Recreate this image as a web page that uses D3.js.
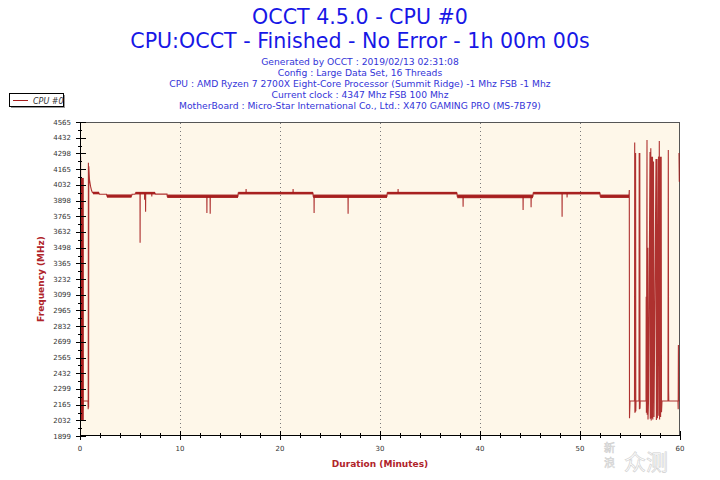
<!DOCTYPE html>
<html><head><meta charset="utf-8">
<script src="https://cdn.jsdelivr.net/npm/d3@7/dist/d3.min.js"></script>
<style>html,body{margin:0;padding:0;background:#fff;}svg{display:block;}</style>
</head><body><svg id="c" width="720" height="480"></svg>
<script>
// ---------- data ----------
const titleLines = ["OCCT 4.5.0 - CPU #0", "CPU:OCCT - Finished - No Error - 1h 00m 00s"];
const infoLines = [
  "Generated by OCCT : 2019/02/13 02:31:08",
  "Config : Large Data Set, 16 Threads",
  "CPU : AMD Ryzen 7 2700X Eight-Core Processor (Summit Ridge) -1 Mhz FSB -1 Mhz",
  "Current clock : 4347 Mhz FSB 100 Mhz",
  "MotherBoard : Micro-Star International Co., Ltd.: X470 GAMING PRO (MS-7B79)"
];
const seriesName = "CPU #0";
const yTickLabels = ["1899","2032","2165","2299","2432","2565","2699","2832","2965","3099","3232",
                     "3365","3498","3632","3765","3898","4032","4165","4298","4432","4565"];
const xTickLabels = ["0","10","20","30","40","50","60"];
const xMinorTicks = [2,4,6,8,12,14,16,18,22,24,26,28,32,34,36,38,42,44,46,48,52,54,56,58];
const yAxisTitle = "Frequency (MHz)";
const xAxisTitle = "Duration (Minutes)";

// frequency trace: [minute, MHz]; null marks a break in the trace
const trace = [
  [0.00,2060],[0.02,4306],[0.04,2035],[0.06,4270],[0.08,2050],[0.10,4090],[0.12,2040],
  [0.14,4060],[0.16,2070],[0.18,4030],[0.20,2090],[0.22,3718],[0.24,2100],[0.26,3700],
  [0.28,2120],[0.30,2196],[0.80,2196],[0.82,2126],[0.84,4218],[0.86,2140],[0.88,4190],
  [0.92,4120],[0.95,4073],[1.05,4020],[1.15,3985],[1.25,3965],[1.90,3962],[1.95,3951],
  [2.65,3951],[2.70,3935],[5.15,3935],[5.20,3951],[5.50,3951],[5.55,3962],
  [6.00,3962],[6.01,3540],[6.02,3962],[6.45,3962],[6.46,3905],[6.47,3962],
  [6.55,3962],[6.56,3803],[6.57,3962],[7.17,3962],[7.18,3932],[7.19,3962],
  [7.50,3962],[7.55,3953],[8.70,3953],[8.72,3935],
  [12.68,3935],[12.69,3792],[12.70,3935],[13.01,3935],[13.02,3786],[13.03,3935],
  [15.80,3935],[15.82,3962],[16.60,3962],[16.61,3996],[16.62,3962],
  [21.30,3962],[21.31,3996],[21.32,3962],[23.30,3962],[23.32,3935],
  [23.40,3935],[23.41,3792],[23.42,3935],[26.80,3935],[26.81,3786],[26.82,3935],
  [30.70,3935],[30.72,3962],[31.80,3962],[31.81,3996],[31.82,3962],
  [37.70,3962],[37.72,3935],[38.30,3935],[38.31,3846],[38.32,3935],
  [44.30,3935],[44.31,3818],[44.32,3935],[45.10,3935],[45.11,3841],[45.12,3935],
  [45.30,3935],[45.32,3962],[48.20,3962],[48.21,3761],[48.22,3962],
  [48.70,3962],[48.71,3925],[48.72,3962],[52.00,3962],[52.02,3935],
  [54.90,3935],[54.93,3987],[54.95,2050],[55.00,2196],[55.45,2196],
  [55.47,4392],[55.49,2097],[55.51,4271],[55.53,2100],[55.56,4301],[55.58,2110],[55.60,2196],
  [55.90,2196],[55.92,4301],[55.94,2126],[55.98,4301],[56.00,2130],[56.02,2196],
  [56.60,2196],[56.62,3082],[56.64,2097],[56.70,4412],[56.72,2080],[56.78,3498],[56.80,2040],
  [56.85,2196],[57.00,4310],[57.03,2045],[57.08,4343],[57.12,2030],[57.16,4271],[57.20,2050],
  [57.25,4271],[57.28,2040],[57.35,4229],[57.40,2060],[57.60,4251],[57.64,2035],
  [57.70,4251],[57.74,2050],[57.85,4271],[57.88,2070],[57.93,4404],[57.96,2040],
  [58.02,4271],[58.06,2060],[58.12,4271],[58.15,2100],[58.20,2196],
  [58.80,2196],[58.83,4327],[58.86,2290],[58.88,2196],
  [59.80,2196],[59.82,2126],[59.84,2672],[59.86,2196],[59.95,2196],
  null,[59.90,4301],[59.93,4058]
];
// envelope of the fast jitter in dense stretches: [fromMin, toMin, lowMHz, highMHz]
const jitterBands = [
  [0.05,0.38,2035,4090],
  [1.30,1.90,3951,3973],[2.70,5.15,3922,3950],[5.55,7.50,3950,3972],
  [8.72,15.80,3920,3949],[15.82,23.30,3950,3972],[23.32,30.70,3920,3949],
  [30.72,37.70,3950,3972],[37.72,45.30,3918,3949],[45.32,52.00,3950,3972],
  [52.02,54.90,3920,3949]
];

// ---------- drawing ----------
const svg = d3.select("#c");
const font = "'DejaVu Sans', Verdana, sans-serif";
const x = d3.scaleLinear().domain([0, 60]).range([80, 680]);
const y = d3.scaleLinear().domain([1899, 4565]).range([436, 122]);
const red = "#a51b1b";

// titles
svg.selectAll("text.title").data(titleLines).join("text")
  .attr("x", 360).attr("y", (d, i) => [24, 48][i])
  .attr("text-anchor", "middle").attr("font-family", font).attr("font-size", 20.6)
  .attr("fill", "#1717e6").text(d => d);
svg.selectAll("text.info").data(infoLines).join("text")
  .attr("x", 360).attr("y", (d, i) => 64.5 + i * 11)
  .attr("text-anchor", "middle").attr("font-family", font).attr("font-size", 9.2)
  .attr("fill", "#3434d8").text(d => d);

// legend
const lg = svg.append("g");
lg.append("rect").attr("x", 11).attr("y", 95).attr("width", 54).attr("height", 13).attr("fill", "#999");
lg.append("rect").attr("x", 9.5).attr("y", 93.5).attr("width", 54).attr("height", 13)
  .attr("fill", "#fff").attr("stroke", "#000").attr("stroke-width", 1);
lg.append("line").attr("x1", 13).attr("x2", 28).attr("y1", 100.5).attr("y2", 100.5)
  .attr("stroke", red).attr("stroke-width", 1);
lg.append("text").attr("x", 33).attr("y", 103.5).attr("font-family", font).attr("font-size", 8)
  .attr("font-style", "italic").attr("fill", "#333").text(seriesName);

// plot background & frame
svg.append("rect").attr("x", 80).attr("y", 122).attr("width", 600).attr("height", 314).attr("fill", "#fef7e9");
svg.append("line").attr("x1", 80).attr("x2", 680).attr("y1", 122.5).attr("y2", 122.5).attr("stroke", "#555");
svg.append("line").attr("x1", 679.5).attr("x2", 679.5).attr("y1", 122).attr("y2", 436).attr("stroke", "#555");

// vertical dotted grid
const xMajor = xTickLabels.map(Number);
svg.selectAll("line.grid").data(xMajor.filter(v => v > 0 && v < 60)).join("line")
  .attr("x1", d => Math.round(x(d)) + 0.5).attr("x2", d => Math.round(x(d)) + 0.5)
  .attr("y1", 123).attr("y2", 436).attr("stroke", "#7a7a7a").attr("stroke-dasharray", "1,3");

// jitter bands + trace (clipped to plot)
svg.append("clipPath").attr("id", "clip").append("rect").attr("x", 80).attr("y", 122).attr("width", 600).attr("height", 314);
const pg = svg.append("g").attr("clip-path", "url(#clip)");
pg.selectAll("rect.band").data(jitterBands).join("rect")
  .attr("x", d => x(d[0])).attr("width", d => x(d[1]) - x(d[0]))
  .attr("y", d => y(d[3])).attr("height", d => y(d[2]) - y(d[3]))
  .attr("fill", red).attr("opacity", 0.95);
const line = d3.line().defined(d => d !== null).x(d => x(d[0])).y(d => y(d[1]));
pg.append("path").attr("d", line(trace)).attr("fill", "none")
  .attr("stroke", red).attr("stroke-width", 1.1).attr("stroke-opacity", 0.9);

// y axis
const yMajor = yTickLabels.map(Number);
const yMinor = yMajor.slice(1).map((v, i) => (v + yMajor[i]) / 2);
svg.append("line").attr("x1", 80.5).attr("x2", 80.5).attr("y1", 122).attr("y2", 436).attr("stroke", "#000");
svg.selectAll("line.ymaj").data(yMajor).join("line")
  .attr("x1", 76).attr("x2", 86).attr("y1", d => Math.round(y(d)) + 0.5).attr("y2", d => Math.round(y(d)) + 0.5)
  .attr("stroke", "#000");
svg.selectAll("line.ymin").data(yMinor).join("line")
  .attr("x1", 78).attr("x2", 82).attr("y1", d => Math.round(y(d)) + 0.5).attr("y2", d => Math.round(y(d)) + 0.5)
  .attr("stroke", "#000");
svg.selectAll("text.ylab").data(yTickLabels).join("text")
  .attr("x", 71).attr("y", d => y(+d) + 2.5).attr("text-anchor", "end")
  .attr("font-family", font).attr("font-size", 7).attr("fill", "#333").text(d => d);

// x axis
svg.append("line").attr("x1", 80).attr("x2", 680).attr("y1", 435.5).attr("y2", 435.5).attr("stroke", "#000");
svg.selectAll("line.xmaj").data(xMajor).join("line")
  .attr("x1", d => Math.round(x(d)) + 0.5).attr("x2", d => Math.round(x(d)) + 0.5)
  .attr("y1", 431).attr("y2", 440).attr("stroke", "#000");
svg.selectAll("line.xmin").data(xMinorTicks).join("line")
  .attr("x1", d => Math.round(x(d)) + 0.5).attr("x2", d => Math.round(x(d)) + 0.5)
  .attr("y1", 433).attr("y2", 438).attr("stroke", "#000");
svg.selectAll("text.xlab").data(xTickLabels).join("text")
  .attr("x", d => x(+d)).attr("y", 451).attr("text-anchor", "middle")
  .attr("font-family", font).attr("font-size", 7).attr("fill", "#333").text(d => d);

// axis titles
svg.append("text").attr("transform", "translate(44,279) rotate(-90)").attr("text-anchor", "middle")
  .attr("font-family", font).attr("font-size", 9).attr("font-weight", "bold").attr("fill", "#b0242a").text(yAxisTitle);
svg.append("text").attr("x", 380).attr("y", 467).attr("text-anchor", "middle")
  .attr("font-family", font).attr("font-size", 9).attr("font-weight", "bold").attr("fill", "#b0242a").text(xAxisTitle);

// watermark, kept clear of the "60" tick label
const wm = svg.append("g").attr("font-family", "'Noto Sans CJK SC', sans-serif").attr("fill", "#fff")
  .attr("stroke", "#c8c8c8").attr("stroke-width", 0.6).attr("opacity", 0.85);
wm.append("text").attr("x", 604).attr("y", 452).attr("font-size", 11).text("新");
wm.append("text").attr("x", 604).attr("y", 467).attr("font-size", 11).text("浪");
wm.append("text").attr("x", 624).attr("y", 470).attr("font-size", 22).text("众测");
</script></body></html>
